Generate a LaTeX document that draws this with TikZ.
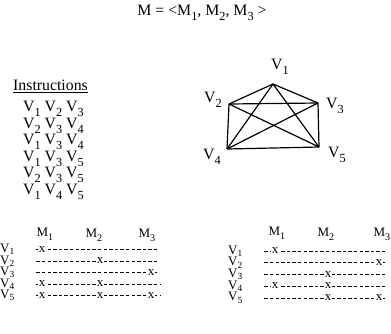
\documentclass[tikz,border=0pt]{standalone}
\usepackage{fontspec}
\setmainfont{Liberation Serif}
\usepackage{graphicx}
\usetikzlibrary{positioning}
\newcommand{\lowsub}[1]{\raisebox{-0.32em}{\scalebox{0.78}{#1}}}
\newcommand{\tsub}[1]{\raisebox{-0.18em}{\scalebox{0.72}{#1}}}

\begin{document}
\begin{tikzpicture}[
  x=1pt, y=-1pt,
  big/.style={font=\fontsize{15.8}{16}\selectfont, inner sep=0pt},
  small/.style={font=\fontsize{13}{14}\selectfont, inner sep=0pt},
  vlab/.style={big},
  edge/.style={line width=1.2pt},
  rowlab/.style={small, anchor=west, text width=36pt, align=left},
  dashrow/.style={line width=0.6pt, dash pattern=on 3.4pt off 2.2pt},
  xmark/.style={small, fill=white, inner xsep=0.6pt}
]
\useasboundingbox (0,0) rectangle (391,333);

% Title
\node[big] (title) at (202,13) {M = <M\lowsub1, M\lowsub2, M\lowsub3 >};

% Instruction list
\node[big, anchor=west] (instr) at (13,86) {\underline{Instructions}};
\node[big, anchor=north west, align=left, font=\fontsize{15.8}{15.3}\selectfont]
    (list) at (23,101)
    {V\lowsub1 V\lowsub2 V\lowsub3\\
     V\lowsub2 V\lowsub3 V\lowsub4\\
     V\lowsub1 V\lowsub3 V\lowsub4\\
     V\lowsub1 V\lowsub3 V\lowsub5\\
     V\lowsub2 V\lowsub3 V\lowsub5\\
     V\lowsub1 V\lowsub4 V\lowsub5};

% The graph
\coordinate (v1) at (273,84);
\coordinate (v2) at (229,104);
\coordinate (v3) at (318,103);
\coordinate (v4) at (227,149);
\coordinate (v5) at (319,147);
\node[vlab] (l1) at (280,67) {V\lowsub1};
\node[vlab] (l2) at (213,100) {V\lowsub2};
\node[vlab] (l3) at (335,106) {V\lowsub3};
\node[vlab] (l4) at (212,157) {V\lowsub4};
\node[vlab] (l5) at (337,155) {V\lowsub5};

\draw[edge] (v1) -- (v2);
\draw[edge] (v1) -- (v3);
\draw[edge] (v1) -- (v4);
\draw[edge] (v1) -- (v5);
\draw[edge] (v2) -- (v3);
\draw[edge] (v2) -- (v4);
\draw[edge] (v2) -- (v5);
\draw[edge] (v3) -- (v4);
\draw[edge] (v3) -- (v5);
\draw[edge] (v4) -- (v5);

% Left table
\node[small] (lh1) at (45,234) {M\lowsub1};
\node[small] (lh2) at (94,235) {M\lowsub2};
\node[small] (lh3) at (147,235) {M\lowsub3};
\coordinate (lc1) at (42,0);
\coordinate (lc2) at (100,0);
\coordinate (lc3) at (151,0);

\node[rowlab] (a1) at (0,249.5) {V\tsub1};
\node[rowlab] (a2) at (0,261) {V\tsub2};
\node[rowlab] (a3) at (0,272.5) {V\tsub3};
\node[rowlab] (a4) at (0,284) {V\tsub4};
\node[rowlab] (a5) at (0,295.5) {V\tsub5};
\draw[dashrow] (a1.east) -- ++(122,0);
\draw[dashrow] (a2.east) -- ++(123,0);
\draw[dashrow] (a3.east) -- ++(122,0);
\draw[dashrow] (a4.east) -- ++(125,0);
\draw[dashrow] (a5.east) -- ++(125,0);
\node[xmark] (a1m1) at (a1.east -| lc1) {x};
\node[xmark] (a2m2) at (a2.east -| lc2) {x};
\node[xmark] (a3m3) at (a3.east -| lc3) {x};
\node[xmark] (a4m1) at (a4.east -| lc1) {x};
\node[xmark] (a4m2) at (a4.east -| lc2) {x};
\node[xmark] (a5m1) at (a5.east -| lc1) {x};
\node[xmark] (a5m2) at (a5.east -| lc2) {x};
\node[xmark] (a5m3) at (a5.east -| lc3) {x};

% Right table
\node[small] (rh1) at (277,233) {M\lowsub1};
\node[small] (rh2) at (326,234) {M\lowsub2};
\node[small] (rh3) at (382,234) {M\lowsub3};
\coordinate (rc1) at (275,0);
\coordinate (rc2) at (328,0);
\coordinate (rc3) at (379,0);

\node[rowlab] (b1) at (228,251) {V\tsub1};
\node[rowlab] (b2) at (228,262.7) {V\tsub2};
\node[rowlab] (b3) at (228,274.4) {V\tsub3};
\node[rowlab] (b4) at (228,286) {V\tsub4};
\node[rowlab] (b5) at (228,297.8) {V\tsub5};
\draw[dashrow] (b1.east) -- ++(122,0);
\draw[dashrow] (b2.east) -- ++(122,0);
\draw[dashrow] (b3.east) -- ++(122,0);
\draw[dashrow] (b4.east) -- ++(122,0);
\draw[dashrow] (b5.east) -- ++(122,0);
\node[xmark] (b1m1) at (b1.east -| rc1) {x};
\node[xmark] (b2m3) at (b2.east -| rc3) {x};
\node[xmark] (b3m2) at (b3.east -| rc2) {x};
\node[xmark] (b4m1) at (b4.east -| rc1) {x};
\node[xmark] (b4m2) at (b4.east -| rc2) {x};
\node[xmark] (b5m2) at (b5.east -| rc2) {x};
\node[xmark] (b5m3) at (b5.east -| rc3) {x};
\end{tikzpicture}
\end{document}
